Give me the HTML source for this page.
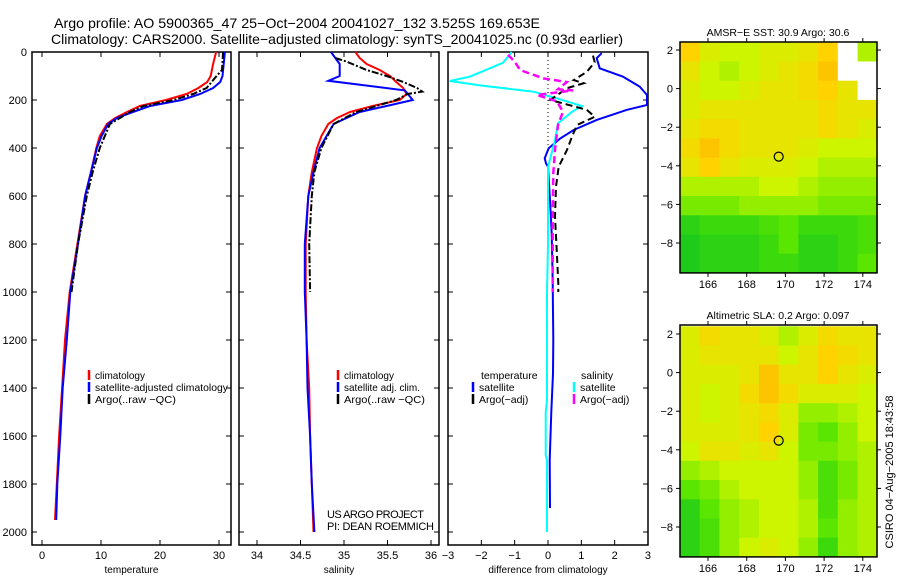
<!DOCTYPE html>
<html><head><meta charset="utf-8"><style>
html,body{margin:0;padding:0;background:#fff;}
svg{display:block;font-family:"Liberation Sans",sans-serif;}
</style></head><body>
<svg id="fig" width="900" height="580" viewBox="0 0 900 580">
<text x="54" y="28" font-size="14" textLength="486" lengthAdjust="spacingAndGlyphs">Argo profile: AO 5900365_47 25−Oct−2004 20041027_132 3.525S 169.653E</text>
<text x="51" y="44" font-size="14" textLength="572" lengthAdjust="spacingAndGlyphs">Climatology: CARS2000. Satellite−adjusted climatology: synTS_20041025.nc (0.93d earlier)</text>
<g id="plots"></g>
<text transform="translate(893,472) rotate(-90)" font-size="11" text-anchor="middle">CSIRO 04−Aug−2005 18:43:58</text>
</svg>
<script>
// ---- profile data (depth in dbar) ----
const tDepth = [0,50,100,125,150,175,200,225,250,275,300,350,400,500,600,800,1000,1200,1400,1600,1800,1950];
const tClim  = [29.5,29,28.6,28,26.5,24.5,21,16.6,14.4,12.4,11,9.8,9.2,8.3,7.3,6,4.7,3.9,3.4,2.9,2.5,2.2];
const tSat   = [31,30.8,30.6,30.2,29,26.8,23.7,18.3,15.4,12.7,11.2,10.1,9.3,8.3,7.3,6.1,4.8,4.2,3.5,3.1,2.6,2.4];
const tArgoDepth = [0,75,100,150,175,200,225,250,300,400,500,600,800,1000];
const tArgo  = [30.7,30.5,29.6,27.9,25.6,22.3,17.2,14.9,11.5,9.8,8.6,7.6,6.1,5];
const sDepth = [0,25,50,75,100,125,150,175,200,225,250,275,300,350,400,500,600,800,1000,1200,1400,1600,1800,2000];
const sClim  = [35.13,35.18,35.26,35.41,35.53,35.6,35.68,35.72,35.64,35.33,35.07,34.92,34.82,34.74,34.69,34.63,34.59,34.56,34.56,34.57,34.6,34.61,34.63,34.65];
const sSatDepth = [0,25,50,100,120,160,200,225,250,275,300,350,400,500,600,800,1000,1200,1400,1600,1800,2000];
const sSat   = [34.85,34.9,34.95,34.95,34.82,35.7,35.79,35.49,35.18,35.03,34.88,34.8,34.72,34.65,34.59,34.55,34.55,34.57,34.58,34.61,34.63,34.66];
const sArgoDepth = [25,40,75,100,125,150,165,175,200,225,250,300,400,500,600,800,1000];
const sArgo  = [34.9,35.03,35.26,35.49,35.68,35.84,35.9,35.73,35.6,35.37,35.14,34.88,34.74,34.66,34.63,34.6,34.61];
// differences
const dTSatDepth = [5,26,68,103,144,179,221,241,283,325,360,401,443,464,478,617,755,964,1200,1340,1500,1700,1900];
const dTSat = [1.61,1.46,1.55,2.25,2.75,2.97,2.97,2.37,1.46,0.77,0.37,0.02,-0.1,-0.06,0,0.06,0.11,0.14,0.16,0.15,0.1,0.05,0.06];
const dTArgoDepth = [15,42,82,117,130,151,200,241,270,304,353,408,478,561,686,825,964,1000];
const dTArgo = [1.35,1.4,1.17,0.77,1.07,0.57,0.07,1.16,1.4,0.87,0.72,0.57,0.32,0.24,0.21,0.26,0.31,0.31];
const dSSatDepth = [0,45,103,121,141,165,193,225,249,297,367,479,600,800,1000,1450,1500,1680,1700,2000];
const dSSat = [-1.09,-1.35,-2.35,-2.95,-1.95,-0.45,0.26,1.02,0.72,0.3,0.21,0,0,0,-0.03,-0.03,-0.07,-0.07,-0.03,-0.03];
const dSArgoDepth = [12,40,75,110,125,155,160,179,206,249,304,408,505,686,895,1000];
const dSArgo = [-1.2,-1.0,-0.84,-0.14,0.56,0.3,0.75,-0.33,0.27,0.45,0.3,0.21,0.16,0.14,0.14,0.14];
const depthTicks = [0,200,400,600,800,1000,1200,1400,1600,1800,2000];
const tTicks = [0,10,20,30];
const sTicks = [34,34.5,35,35.5,36];
const dTicks = [-3,-2,-1,0,1,2,3];
// ---- map data (0=green .. 1=orange, -1=missing) ----
const lonTicks = [166,168,170,172,174];
const latTicks = [2,0,-2,-4,-6,-8];
const sstGrid = [
[0.7,0.55,0.5,0.5,0.55,0.55,0.6,0.7,-1,0.45],
[0.6,0.5,0.45,0.5,0.55,0.6,0.65,0.75,-1,-1],
[0.55,0.5,0.5,0.55,0.6,0.6,0.65,0.7,0.6,-1],
[0.55,0.6,0.6,0.6,0.6,0.6,0.6,0.65,0.6,0.6],
[0.6,0.65,0.65,0.6,0.6,0.6,0.6,0.65,0.6,0.55],
[0.65,0.75,0.65,0.6,0.6,0.6,0.55,0.5,0.5,0.5],
[0.6,0.7,0.6,0.55,0.55,0.55,0.5,0.45,0.45,0.45],
[0.45,0.45,0.45,0.45,0.5,0.5,0.45,0.4,0.4,0.4],
[0.35,0.35,0.35,0.4,0.4,0.4,0.4,0.35,0.35,0.35],
[0.15,0.2,0.2,0.2,0.25,0.3,0.2,0.2,0.2,0.25],
[0.1,0.15,0.15,0.15,0.2,0.3,0.15,0.15,0.2,0.25],
[0.1,0.15,0.15,0.15,0.2,0.2,0.15,0.15,0.2,0.3]];
const slaGrid = [
[0.55,0.65,0.6,0.6,0.55,0.45,0.55,0.65,0.6,0.6],
[0.55,0.6,0.6,0.6,0.6,0.5,0.6,0.7,0.65,0.6],
[0.55,0.55,0.55,0.6,0.75,0.6,0.6,0.7,0.6,0.55],
[0.55,0.5,0.55,0.65,0.75,0.65,0.55,0.55,0.55,0.5],
[0.55,0.5,0.55,0.6,0.65,0.55,0.4,0.4,0.45,0.5],
[0.55,0.55,0.55,0.6,0.7,0.55,0.35,0.3,0.4,0.5],
[0.5,0.6,0.6,0.55,0.6,0.5,0.35,0.35,0.4,0.45],
[0.4,0.45,0.5,0.5,0.5,0.5,0.4,0.25,0.35,0.45],
[0.3,0.35,0.45,0.5,0.5,0.5,0.4,0.25,0.35,0.45],
[0.15,0.3,0.4,0.45,0.5,0.5,0.45,0.25,0.4,0.45],
[0.15,0.25,0.4,0.45,0.5,0.5,0.45,0.3,0.4,0.45],
[0.15,0.25,0.4,0.5,0.55,0.5,0.4,0.2,0.4,0.45]];
const argoLon = 169.653, argoLat = -3.525;

const NS='http://www.w3.org/2000/svg';
const root=document.getElementById('plots');
function mk(tag,attrs,parent){const e=document.createElementNS(NS,tag);for(const k in attrs)e.setAttribute(k,attrs[k]);(parent||root).appendChild(e);return e;}
function txt(x,y,s,size,anchor,parent){const t=mk('text',{x:x,y:y,'font-size':size,'text-anchor':anchor||'start'},parent);t.textContent=s;return t;}
const yD=d=>52+d*0.24;
const xT=v=>42+v*5.9, xS=v=>257+(v-34)*87, xD=v=>548+v*33.33;
const TOP=52,BOT=545;

function panel(name,x0,x1,xs,ticks,labels,xlabel,showY){
  const g=mk('g',{});
  
  
  const r=mk('rect',{x:x0,y:TOP,width:x1-x0,height:BOT-TOP,fill:'none',stroke:'#000','stroke-width':1.5},g);
  
  
  depthTicks.forEach(d=>{
    mk('line',{x1:x0,y1:yD(d),x2:x0+5,y2:yD(d),stroke:'#000'},g);
    mk('line',{x1:x1,y1:yD(d),x2:x1-5,y2:yD(d),stroke:'#000'},g);
    if(showY){const t=txt(27,yD(d)+4,String(d),11,'end',g);
      
      }
  });
  ticks.forEach((v,i)=>{
    mk('line',{x1:xs(v),y1:BOT,x2:xs(v),y2:BOT-5,stroke:'#000'},g);
    mk('line',{x1:xs(v),y1:TOP,x2:xs(v),y2:TOP+5,stroke:'#000'},g);
    const t=txt(xs(v),559,labels[i],11,'middle',g);
    
    
  });
  const xl=txt((x0+x1)/2,573,xlabel,10,'middle',g);
  
  
  return g;
}
function line(g,depths,vals,xs,color,dash,name,w){
  const pts=depths.map((d,i)=>xs(vals[i]).toFixed(1)+','+yD(d).toFixed(1)).join(' ');
  const p=mk('polyline',{points:pts,fill:'none',stroke:color,'stroke-width':w||2,'stroke-dasharray':dash||'none'},g);
  
  
}
function legend(g,x,y,color,label,len){
  const m=mk('line',{x1:x,y1:y-6,x2:x,y2:y+4,stroke:color,'stroke-width':2.5},g);
  
  
  if(label){const t=txt(x+6,y+3,label,10.5,'start',g);
  if(len){t.setAttribute('textLength',len);t.setAttribute('lengthAdjust','spacingAndGlyphs');}
  
  }
}
// Panel 1
const g1=panel('temperature-panel',32,231,xT,tTicks,['0','10','20','30'],'temperature',true);
line(g1,tDepth,tClim,xT,'#f00',null,'temp-climatology-line');
line(g1,tDepth,tSat,xT,'#00f',null,'temp-satellite-line');
line(g1,tArgoDepth,tArgo,xT,'#000','7,2,2,2','temp-argo-line');
legend(g1,89,376,'#f00','climatology',50);
legend(g1,89,388,'#00f','satellite-adjusted climatology',133);
legend(g1,89,400,'#000','Argo(..raw −QC)',81);
// Panel 2
const g2=panel('salinity-panel',239,439,xS,sTicks,['34','34.5','35','35.5','36'],'salinity',false);
line(g2,sDepth,sClim,xS,'#f00',null,'sal-climatology-line');
line(g2,sSatDepth,sSat,xS,'#00f',null,'sal-satellite-line');
line(g2,sArgoDepth,sArgo,xS,'#000','7,2,2,2','sal-argo-line');
legend(g2,338,376,'#f00','climatology',50);
legend(g2,338,388,'#00f','satellite adj. clim.',76);
legend(g2,338,400,'#000','Argo(..raw −QC)',81);
const c1=txt(327,518,'US ARGO PROJECT',11,'start',g2);
c1.setAttribute('textLength','97');


const c2=txt(327,530,'PI: DEAN ROEMMICH',11,'start',g2);
c2.setAttribute('textLength','107');


// Panel 3
const g3=panel('difference-panel',448,648,xD,dTicks,['−3','−2','−1','0','1','2','3'],'difference from climatology',false);
const zl=mk('line',{x1:xD(0),y1:TOP,x2:xD(0),y2:yD(400),stroke:'#000','stroke-dasharray':'1,3'},g3);


line(g3,dTSatDepth,dTSat,xD,'#00f',null,'diff-temp-satellite-line');
line(g3,dSSatDepth,dSSat,xD,'#0ff',null,'diff-sal-satellite-line');
line(g3,dTArgoDepth,dTArgo,xD,'#000','7,4','diff-temp-argo-line');
line(g3,dSArgoDepth,dSArgo,xD,'#f0f','7,4','diff-sal-argo-line',2.5);
const h1=txt(481,379,'temperature',10.5,'start',g3);


legend(g3,473,388,'#00f','satellite');
legend(g3,473,400,'#000','Argo(−adj)');
const h2=txt(581,379,'salinity',10.5,'start',g3);


legend(g3,574,388,'#0ff','satellite');
legend(g3,574,400,'#f0f','Argo(−adj)');

// ---- Maps ----
const stops=[[0,[0,190,40]],[0.3,[90,230,0]],[0.5,[205,245,0]],[0.7,[255,210,0]],[0.85,[250,170,0]],[1,[240,140,0]]];
function cmap(v){
  for(let i=1;i<stops.length;i++){if(v<=stops[i][0]){const a=stops[i-1],b=stops[i],t=(v-a[0])/(b[0]-a[0]);
    const c=a[1].map((x,k)=>Math.round(x+(b[1][k]-x)*t));return 'rgb('+c.join(',')+')';}}
  return 'rgb(240,140,0)';
}
const lonX=l=>708+(l-166)*19.35;
function map(name,top,y2,grid,title){
  const latY=l=>y2+(2-l)*19.3;
  const left=680,right=877,bottom=latY(-9.55);
  const g=mk('g',{});
  
  
  const rows=grid.length,cols=grid[0].length;
  const lon0=164.55,dlon=10.2/cols,lat0=2.4,dlat=11.95/rows;
  grid.forEach((row,j)=>row.forEach((v,i)=>{
    const xa=lonX(lon0+i*dlon),xb=lonX(lon0+(i+1)*dlon),ya=latY(lat0-j*dlat),yb=latY(lat0-(j+1)*dlat);
    const c=mk('rect',{x:xa.toFixed(1),y:ya.toFixed(1),width:(xb-xa+0.5).toFixed(1),height:(yb-ya+0.5).toFixed(1),fill:v<0?'#fff':cmap(v)},g);
    
    
  }));
  const fr=mk('rect',{x:left,y:top,width:right-left,height:bottom-top,fill:'none',stroke:'#000','stroke-width':1.5},g);
  
  
  lonTicks.forEach(l=>{
    mk('line',{x1:lonX(l),y1:top,x2:lonX(l),y2:top-4,stroke:'#000'},g);
    mk('line',{x1:lonX(l),y1:bottom,x2:lonX(l),y2:bottom+4,stroke:'#000'},g);
    const t=txt(lonX(l),bottom+15,String(l),11,'middle',g);
    
    
  });
  latTicks.forEach(l=>{
    mk('line',{x1:left,y1:latY(l),x2:left-4,y2:latY(l),stroke:'#000'},g);
    mk('line',{x1:right,y1:latY(l),x2:right+4,y2:latY(l),stroke:'#000'},g);
    const t=txt(673,latY(l)+4,l<0?'−'+(-l):String(l),11,'end',g);
    
    
  });
  const tt=txt(778,top-6,title,10.5,'middle',g);
  
  
  const ci=mk('circle',{cx:lonX(argoLon),cy:latY(argoLat),r:4.5,fill:'none',stroke:'#000','stroke-width':1.2},g);
  
  
}
map('sst-map',42,50,sstGrid,'AMSR−E SST: 30.9 Argo: 30.6');
map('sla-map',325,334,slaGrid,'Altimetric SLA: 0.2 Argo: 0.097');
</script>
</body></html>
